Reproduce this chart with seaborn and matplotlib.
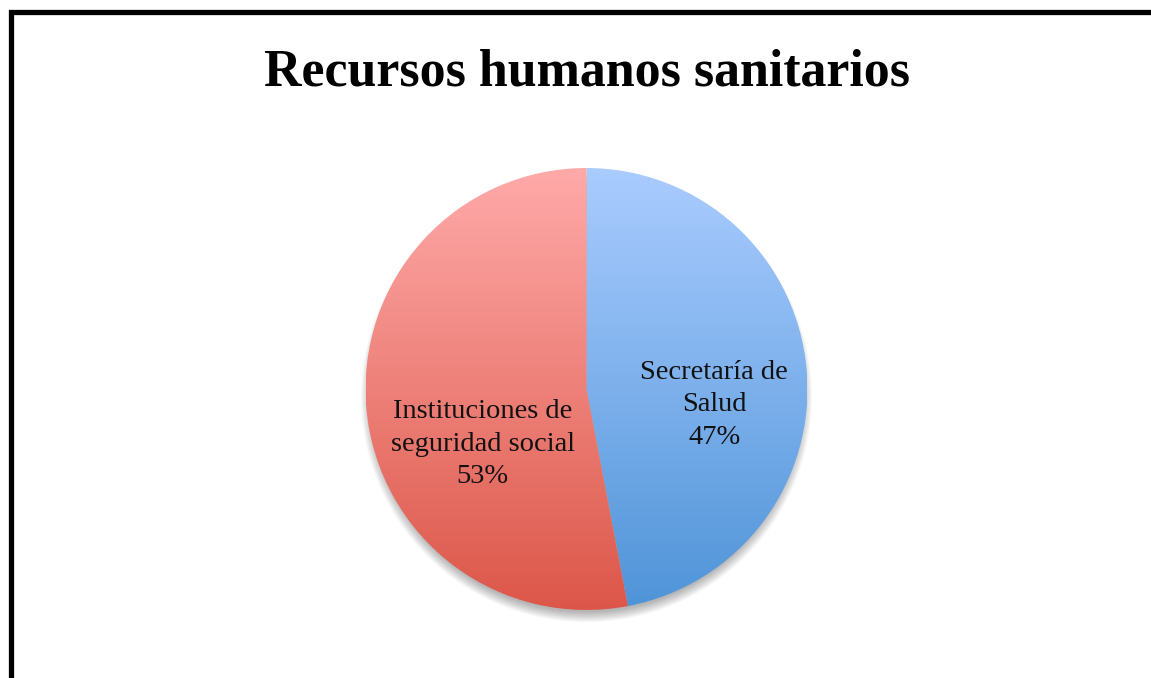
import numpy as np
import matplotlib
matplotlib.use("Agg")
import matplotlib.pyplot as plt
from matplotlib.patches import Rectangle, Circle
import seaborn as sns

# Data
categories = ["Secretaría de Salud", "Instituciones de seguridad social"]
label_lines = ["Secretaría de\nSalud", "Instituciones de\nseguridad social"]
shares = [47, 53]
title = "Recursos humanos sanitarios"

# Vertical gradients (top -> bottom) for each slice
gradient_stops = [("#AACCFF", "#4F94D8"), ("#FFAAA9", "#DC5749")]

sns.set_theme(style="white")
plt.rcParams["font.family"] = ["Liberation Serif", "DejaVu Serif"]

W, H = 1151, 678
fig = plt.figure(figsize=(W / 100, H / 100), dpi=100)
fig.patch.set_facecolor("white")

# Frame around the chart area (runs off the right and bottom edges)
fig.patches.append(Rectangle((10.5 / W, -0.2), 1.5, 1 - 11.5 / H + 0.2,
                             transform=fig.transFigure, fill=False,
                             edgecolor="black", linewidth=3.8, clip_on=False))

fig.text(586.5 / W, 1 - 73 / H, title, ha="center", va="center",
         fontsize=37.4, fontweight="bold", color="black")

cx, cy, r = 586.5, 389, 221
ax = fig.add_axes([(cx - r) / W, (H - cy - r) / H, 2 * r / W, 2 * r / H])
ax.set_axis_off()

# Soft shadow beneath the pie
for k in range(10):
    ax.add_patch(Circle((0.0, -0.035), 0.975 + 0.005 * k, facecolor="black",
                        edgecolor="none", alpha=0.03, zorder=0, clip_on=False))

wedges, _ = ax.pie(shares, startangle=90, counterclock=False, radius=1,
                   colors=["none", "none"], frame=False,
                   wedgeprops=dict(linewidth=0))
ax.set_xlim(-1, 1)
ax.set_ylim(-1, 1)
ax.set_aspect("equal")

grad = np.linspace(0, 1, 256).reshape(-1, 1)
for w, (top, bottom) in zip(wedges, gradient_stops):
    cmap = sns.blend_palette([top, bottom], n_colors=256, as_cmap=True)
    im = ax.imshow(grad, extent=(-1, 1, -1, 1), origin="upper", cmap=cmap,
                   aspect="auto", zorder=1, interpolation="bilinear")
    w.set_facecolor((1, 1, 1, 0))
    im.set_clip_path(w)

# Slice labels
label_pos = [(0.578, -0.072), (-0.47, -0.25)]
for (x, y), txt, v in zip(label_pos, label_lines, shares):
    ax.text(x, y, f"{txt}\n{v}%", ha="center", va="center", fontsize=20.5,
            color="#111111", linespacing=1.4, zorder=3)

fig.savefig("out.png", dpi=100, facecolor="white")
